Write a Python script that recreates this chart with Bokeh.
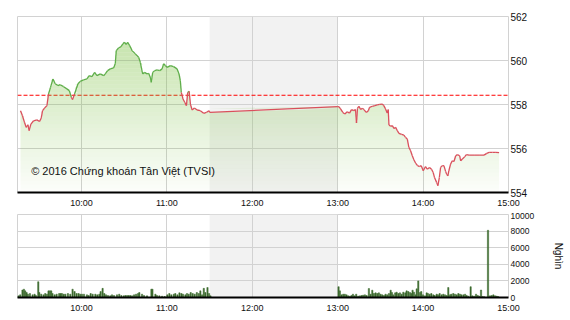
from bokeh.plotting import figure
from bokeh.layouts import column
from bokeh.models import Range1d, FixedTicker, BoxAnnotation, Span, Label
from bokeh.embed import file_html
from bokeh.resources import INLINE

# ---------------- data (time = minutes after 09:00) ----------------
REF_PRICE = 558.42

PRICE_T = [17.1, 18.5, 19.9, 21.1, 22.3, 23.2, 24.4, 26.3, 28.6, 30.5, 31.7, 32.6, 34.0, 35.7,
           36.8, 38.2, 39.9, 41.5, 43.4, 45.0, 47.4, 49.7, 51.4, 52.8, 53.7, 55.1, 57.5, 59.1,
           61.4, 63.8, 65.4, 67.3, 69.2, 70.8, 73.2, 75.5, 76.7, 78.3, 80.2, 82.5, 83.7, 84.4,
           86.0, 87.7, 89.1, 90.1, 91.5, 92.4, 93.8, 95.5, 97.8, 100.1, 101.3, 102.9, 104.3,
           106.0, 107.1, 108.3, 109.0, 110.0, 111.4, 113.1, 114.9, 116.6, 117.7, 118.9, 120.1,
           122.4, 124.7, 127.1, 128.5, 129.4, 130.1, 131.3, 132.5, 133.7, 134.6, 135.6, 136.5,
           137.7, 139.3, 141.2, 143.5, 145.8, 147.7, 149.4, 150.1,
           240.1, 240.8, 242.0, 243.6, 245.0, 246.7, 248.3, 249.7, 251.3, 252.5, 253.2, 253.9,
           254.9, 256.1, 257.3, 258.4, 260.1, 261.5, 262.4, 264.3, 266.1, 267.8, 269.4, 271.3,
           272.4, 273.6, 274.8, 275.5, 276.0, 277.2, 278.4, 279.5, 280.7, 281.9, 283.0, 284.9,
           286.5, 287.7, 288.9, 290.0, 291.2, 292.4, 293.5, 294.7, 296.1, 297.5, 298.7, 300.1,
           301.7, 302.9, 304.5, 305.9, 307.1, 308.0, 309.5, 310.4, 311.4, 312.3, 313.5, 314.6,
           315.8, 316.5, 317.4, 318.1, 319.3, 320.5, 321.7, 322.9, 324.1, 325.7, 326.4, 327.6,
           329.3, 330.4, 332.3, 335.8, 339.3, 342.8, 344.7, 346.4, 348.8, 351.1, 353.4]

PRICE_V = [557.72, 557.49, 557.19, 556.96, 557.08, 556.81, 557.11, 557.26, 557.30, 557.23, 557.39,
           557.72, 557.84, 557.95, 558.48, 558.78, 559.16, 558.94, 558.86, 558.90, 558.81, 558.71,
           558.63, 558.33, 558.22, 558.48, 558.94, 559.05, 559.12, 559.16, 559.31, 559.27, 559.46,
           559.31, 559.39, 559.31, 559.39, 559.54, 559.62, 559.66, 559.85, 560.45, 560.57, 560.63,
           560.76, 560.83, 560.73, 560.83, 560.68, 560.45, 560.30, 560.15, 559.92, 559.39, 559.46,
           559.39, 559.42, 559.24, 559.01, 559.46, 559.54, 559.57, 559.54, 559.62, 559.85, 559.77,
           559.69, 559.77, 559.72, 559.62, 559.39, 559.09, 558.55, 558.25, 558.10, 557.95, 558.55,
           558.60, 558.02, 557.75, 557.84, 557.75, 557.72, 557.60, 557.64, 557.72, 557.64,
           557.90, 557.90, 557.80, 557.64, 557.57, 557.67, 557.61, 557.77, 557.72, 557.77, 557.16,
           557.83, 557.92, 557.77, 557.83, 557.77, 557.64, 557.72, 557.87, 557.92, 557.95, 557.98,
           558.01, 558.02, 557.95, 557.80, 557.61, 557.77, 557.07, 557.01, 557.04, 556.91, 556.96,
           556.81, 556.69, 556.64, 556.61, 556.50, 556.43, 556.05, 555.90, 555.67, 555.49, 555.34,
           555.22, 555.18, 555.22, 554.99, 555.18, 555.06, 555.14, 555.06, 554.91, 554.68, 554.46,
           554.31, 554.68, 555.14, 555.22, 555.22, 554.96, 554.84, 554.76, 554.99, 555.29, 555.44,
           555.41, 555.67, 555.72, 555.67, 555.44, 555.52, 555.63, 555.72, 555.70, 555.70, 555.70,
           555.70, 555.78, 555.82, 555.82, 555.82, 555.81]

VOL_T = [15.7, 16.9, 18.5, 19.5, 20.4, 21.4, 22.3, 23.7, 25.6, 27.0, 27.9, 29.6, 30.3, 31.7, 33.3,
         34.5, 35.7, 36.8, 37.8, 38.7, 39.6, 41.1, 42.5, 44.3, 45.3, 46.2, 47.4, 48.6, 50.4, 52.1,
         53.7, 55.1, 56.5, 57.9, 59.1, 60.3, 61.7, 63.8, 65.0, 66.4, 67.8, 69.7, 71.1, 72.5, 73.4,
         74.8, 76.0, 77.2, 78.6, 80.2, 81.4, 82.8, 84.9, 86.5, 88.0, 89.6, 90.8, 92.0, 93.1, 94.3,
         95.5, 96.9, 98.3, 99.7, 100.6, 102.5, 103.9, 106.0, 109.1, 109.8, 111.9, 113.0, 114.7,
         116.6, 118.4, 120.3, 121.7, 123.1, 124.8, 125.9, 127.4, 128.8, 130.2, 131.3, 133.0,
         134.1, 135.3, 136.7, 138.1, 139.5, 141.0, 142.4, 143.5, 144.7, 145.9, 147.0, 148.5,
         149.6, 150.6,
         240.6, 241.5, 242.7, 243.9, 245.0, 246.2, 247.4, 248.6, 249.7, 250.7, 251.8, 253.0,
         254.4, 255.6, 256.8, 257.9, 259.1, 260.3, 261.9, 263.1, 264.3, 265.4, 266.6, 267.8,
         268.9, 270.1, 271.3, 272.5, 273.6, 274.8, 276.0, 277.2, 278.1, 279.0, 280.4, 281.4,
         282.6, 283.7, 284.9, 286.1, 287.5, 288.4, 289.6, 290.8, 291.7, 292.6, 293.6, 294.8,
         295.5, 296.6, 297.8, 298.7, 299.9, 301.3, 302.5, 303.4, 304.6, 305.8, 307.2, 308.1,
         309.5, 310.5, 311.6, 313.0, 314.2, 315.4, 316.6, 317.7, 318.9, 319.8, 321.2, 322.4,
         323.6, 324.8, 325.9, 326.9, 328.3, 329.5, 330.6, 331.8, 333.4, 334.6, 335.8, 337.2,
         338.4, 339.5, 340.7, 341.9, 343.1, 345.6, 347.0, 348.2, 349.4, 350.6, 351.7, 352.7]

VOL_V = [200, 320, 900, 1000, 800, 600, 400, 480, 320, 400, 240, 1900, 600, 400, 320,
         480, 400, 800, 800, 800, 480, 320, 400, 480, 480, 480, 400, 400, 480, 400,
         1000, 720, 480, 480, 400, 400, 400, 320, 240, 480, 400, 400, 320, 400, 720,
         1100, 480, 320, 240, 200, 320, 240, 320, 400, 240, 200, 240, 240, 240, 240,
         200, 320, 400, 480, 600, 400, 240, 200, 1000, 1000, 400, 240, 200,
         160, 120, 320, 480, 320, 400, 480, 320, 560, 480, 400, 320,
         480, 400, 600, 480, 400, 600, 480, 800, 320, 1100, 600, 1200,
         480, 200,
         1300, 800, 320, 400, 400, 320, 200, 160, 240, 400, 200, 400,
         160, 200, 240, 280, 320, 240, 1080, 400, 880, 480, 560, 480,
         560, 400, 320, 240, 400, 320, 480, 880, 600, 320, 560, 640,
         480, 560, 400, 640, 560, 800, 720, 600, 480, 880, 640, 320,
         1040, 2000, 600, 720, 320, 200, 560, 480, 400, 480, 320, 240,
         400, 320, 480, 320, 400, 320, 240, 1200, 320, 400, 480, 400,
         320, 480, 400, 320, 320, 400, 240, 160, 1300, 200, 160, 400,
         240, 160, 900, 120, 80, 8100, 200, 240, 320, 200, 160, 120]

HOUR_TICKS = [60, 120, 180, 240, 300, 360]
HOUR_LABELS = ["10:00", "11:00", "12:00", "13:00", "14:00", "15:00"]
PRICE_TICKS = [554, 556, 558, 560, 562]
VOL_TICKS = [0, 2000, 4000, 6000, 8000, 10000]
LUNCH_START, LUNCH_END = 150, 240
X_START, X_END = 15, 360
COPYRIGHT = "© 2016 Chứng khoán Tân Việt (TVSI)"
VOL_UNIT = "Nghìn"

FONT = "Liberation Sans"
GRID = "#d2d2d2"

# ---------------- price chart ----------------
x_range = Range1d(X_START, X_END)
p = figure(width=570, height=212, x_range=x_range, y_range=Range1d(554, 562),
           output_backend="svg", toolbar_location=None, y_axis_location="right",
           min_border_left=17, min_border_right=62, min_border_top=16, min_border_bottom=20)
p.outline_line_color = GRID
p.background_fill_color = "white"
p.border_fill_color = "white"

lunch1 = BoxAnnotation(left=LUNCH_START, right=LUNCH_END, fill_color="#f2f2f2", fill_alpha=1.0,
                       line_color=None, level="image")
p.add_layout(lunch1)

p.add_layout(Span(location=REF_PRICE, dimension="width", line_color="#ff0000",
                  line_dash="4 2", line_width=1, level="underlay"))

# gradient area: thin non-overlapping bands, alpha increases with height
N = 44
lo_all, hi_all = 554.0, 562.0
step = (hi_all - lo_all) / N
for i in range(N):
    lo = lo_all + i * step
    hi = lo + step
    y2 = [min(max(v, lo), hi) for v in PRICE_V]
    mid = (lo + hi) / 2
    a = 0.02 + 0.46 * (mid - lo_all) / (hi_all - lo_all)
    p.varea(x=PRICE_T, y1=lo, y2=y2, fill_color=(120, 190, 60), fill_alpha=a)

# line coloured by position vs reference
seg_colors = ["#5fae4a" if (a + b) / 2 >= REF_PRICE else "#d9505c"
              for a, b in zip(PRICE_V[:-1], PRICE_V[1:])]
p.segment(x0=PRICE_T[:-1], y0=PRICE_V[:-1], x1=PRICE_T[1:], y1=PRICE_V[1:],
          line_color=seg_colors, line_width=1.3)

p.add_layout(Label(x=24.6, y=555.0, text=COPYRIGHT, text_font=FONT, text_font_size="11px",
                   text_baseline="middle", text_align="left", text_color="#111111"))

for fig in []:
    pass

def style_axes(fig, yticks, yfont):
    fig.xaxis.ticker = FixedTicker(ticks=HOUR_TICKS)
    fig.xaxis.major_label_overrides = dict(zip(HOUR_TICKS, HOUR_LABELS))
    fig.xaxis.axis_line_color = "black"
    fig.xaxis.axis_line_width = 2
    fig.xaxis.major_tick_out = 0
    fig.xaxis.major_tick_in = 0
    fig.xaxis.minor_tick_line_color = None
    fig.xaxis.major_label_text_font = FONT
    fig.xaxis.major_label_text_font_size = "9px"
    fig.xaxis.major_label_text_color = "#111111"
    fig.xaxis.major_label_standoff = 5
    fig.yaxis.ticker = FixedTicker(ticks=yticks)
    fig.yaxis.axis_line_color = None
    fig.yaxis.major_tick_out = 0
    fig.yaxis.major_tick_in = 0
    fig.yaxis.minor_tick_line_color = None
    fig.yaxis.major_label_text_font = FONT
    fig.yaxis.major_label_text_font_size = yfont
    fig.yaxis.major_label_text_color = "#111111"
    fig.yaxis.major_label_standoff = 2
    fig.xgrid.ticker = FixedTicker(ticks=HOUR_TICKS)
    fig.ygrid.ticker = FixedTicker(ticks=yticks)
    fig.xgrid.grid_line_color = GRID
    fig.ygrid.grid_line_color = GRID

style_axes(p, PRICE_TICKS, "10px")

# ---------------- volume chart ----------------
v = figure(width=570, height=108, x_range=x_range, y_range=Range1d(0, 10000),
           output_backend="svg", toolbar_location=None, y_axis_location="right",
           min_border_left=17, min_border_right=62, min_border_top=2, min_border_bottom=23)
v.outline_line_color = GRID
v.background_fill_color = "white"
v.border_fill_color = "white"
v.add_layout(BoxAnnotation(left=LUNCH_START, right=LUNCH_END, fill_color="#f2f2f2",
                           fill_alpha=1.0, line_color=None, level="image"))
v.vbar(x=VOL_T, top=VOL_V, bottom=0, width=0.9, fill_color="#3d6b2f", line_color="#3d6b2f",
       line_width=0.5)
style_axes(v, VOL_TICKS, "8.5px")
v.yaxis.axis_label = VOL_UNIT
v.yaxis.axis_label_text_font = FONT
v.yaxis.axis_label_text_font_style = "normal"
v.yaxis.axis_label_text_font_size = "10px"
v.yaxis.axis_label_text_color = "#111111"
v.yaxis.axis_label_standoff = 16

layout = column(p, v, spacing=0)
open("out.html", "w").write(file_html(layout, INLINE))
